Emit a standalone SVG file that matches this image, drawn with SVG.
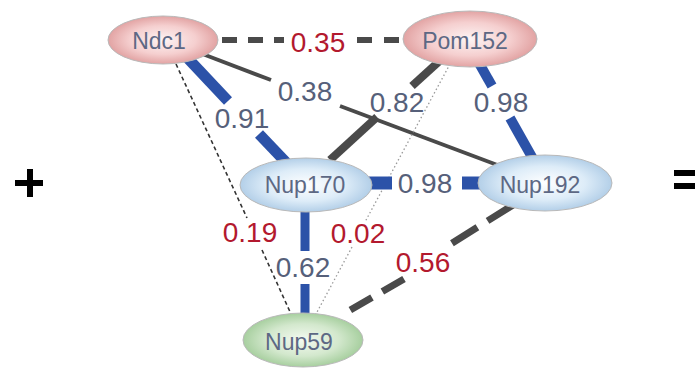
<svg xmlns="http://www.w3.org/2000/svg" width="695" height="373" viewBox="0 0 695 373">
<style>
.blue{stroke:#2c52a8;fill:none;stroke-linecap:butt}
.dark{stroke:#4a4a4a;fill:none}
.nl{font-family:"Liberation Sans",Arial,sans-serif;font-size:23px;fill:#5d6884;text-anchor:middle}
.el{font-family:"Liberation Sans",Arial,sans-serif;font-size:28px;text-anchor:middle}
.g{fill:#56607a}
.r{fill:#b3192e}
.node{stroke:#b9b9b9;stroke-width:1}
</style>
<defs>
<radialGradient id="pink" cx="50%" cy="50%" r="50%">
<stop offset="0" stop-color="#fdf4f4"/>
<stop offset="0.6" stop-color="#f5cfcf"/>
<stop offset="1" stop-color="#e2a3a3"/>
</radialGradient>
<radialGradient id="blueg" cx="50%" cy="50%" r="50%">
<stop offset="0" stop-color="#ffffff"/>
<stop offset="0.6" stop-color="#ddecf8"/>
<stop offset="1" stop-color="#b3cfe8"/>
</radialGradient>
<radialGradient id="green" cx="50%" cy="50%" r="50%">
<stop offset="0" stop-color="#f4faf1"/>
<stop offset="0.6" stop-color="#d3e8cd"/>
<stop offset="1" stop-color="#a7cf9f"/>
</radialGradient>
</defs>
<rect width="695" height="373" fill="#ffffff"/>
<g id="plus" fill="#000">
<rect x="15" y="180" width="28" height="6"/>
<rect x="27" y="169" width="6" height="28"/>
</g>
<g id="equals" fill="#000">
<rect x="674" y="170" width="21" height="6"/>
<rect x="674" y="183" width="21" height="6"/>
</g>
<g id="connectors">
<!-- Ndc1 - Pom152 -->
<line class="dark" x1="222" y1="40" x2="284" y2="40" stroke-width="6" stroke-dasharray="15 11"/>
<line class="dark" x1="357" y1="40" x2="404" y2="40" stroke-width="6" stroke-dasharray="15 12"/>
<!-- Ndc1 - Nup192 -->
<line class="dark" x1="200" y1="53" x2="271" y2="80" stroke-width="4"/>
<line class="dark" x1="340" y1="106" x2="500" y2="166" stroke-width="4"/>
<!-- Ndc1 - Nup59 -->
<line x1="176" y1="64" x2="247" y2="218" stroke="#333" stroke-width="1.6" stroke-dasharray="4 3"/>
<line x1="262" y1="250" x2="291" y2="314" stroke="#333" stroke-width="1.6" stroke-dasharray="4 3"/>
<!-- Pom152 - Nup59 -->
<line x1="450" y1="64" x2="365" y2="222" stroke="#9a9a9a" stroke-width="1.3" stroke-dasharray="1.5 2.5"/>
<line x1="352" y1="247" x2="316" y2="314" stroke="#9a9a9a" stroke-width="1.3" stroke-dasharray="1.5 2.5"/>
<!-- Ndc1 - Nup170 -->
<line class="blue" x1="180" y1="50" x2="228" y2="101" stroke-width="11"/>
<line class="blue" x1="259" y1="134" x2="300" y2="177" stroke-width="11"/>
<!-- Pom152 - Nup170 -->
<line class="dark" x1="445" y1="56" x2="412" y2="86" stroke-width="8"/>
<line class="dark" x1="377" y1="117" x2="330" y2="160" stroke-width="8"/>
<!-- Pom152 - Nup192 -->
<line class="blue" x1="475" y1="56" x2="492" y2="86" stroke-width="10"/>
<line class="blue" x1="510" y1="118" x2="537" y2="166" stroke-width="10"/>
<!-- Nup170 - Nup192 -->
<line class="blue" x1="360" y1="183" x2="392" y2="183" stroke-width="13"/>
<line class="blue" x1="462" y1="183" x2="492" y2="183" stroke-width="13"/>
<!-- Nup170 - Nup59 -->
<line class="blue" x1="305" y1="200" x2="305" y2="251" stroke-width="9"/>
<line class="blue" x1="305" y1="284" x2="305" y2="320" stroke-width="9"/>
<!-- Nup192 - Nup59 -->
<line class="dark" x1="513" y1="205" x2="449" y2="245" stroke-width="7" stroke-dasharray="30 12"/>
<line class="dark" x1="404" y1="279" x2="347" y2="312" stroke-width="7" stroke-dasharray="25 12"/>
</g>
<g id="edge-labels">
<text class="el r" x="318" y="52">0.35</text>
<text class="el g" x="305" y="101">0.38</text>
<text class="el g" x="242" y="128">0.91</text>
<text class="el g" x="397" y="112">0.82</text>
<text class="el g" x="501" y="112">0.98</text>
<text class="el g" x="425" y="193">0.98</text>
<text class="el r" x="250" y="242">0.19</text>
<text class="el r" x="358" y="243">0.02</text>
<text class="el g" x="303" y="277">0.62</text>
<text class="el r" x="423" y="272">0.56</text>
</g>
<g id="Ndc1">
<ellipse class="node" cx="163" cy="40" rx="55" ry="24" fill="url(#pink)"/>
<text class="nl" x="159" y="49">Ndc1</text>
</g>
<g id="Pom152">
<ellipse class="node" cx="470" cy="39" rx="67" ry="28" fill="url(#pink)"/>
<text class="nl" x="465" y="49">Pom152</text>
</g>
<g id="Nup170">
<ellipse class="node" cx="306" cy="185" rx="66" ry="27" fill="url(#blueg)"/>
<text class="nl" x="305" y="193">Nup170</text>
</g>
<g id="Nup192">
<ellipse class="node" cx="545" cy="183" rx="67" ry="28" fill="url(#blueg)"/>
<text class="nl" x="540" y="193">Nup192</text>
</g>
<g id="Nup59">
<ellipse class="node" cx="303" cy="340" rx="60" ry="27" fill="url(#green)"/>
<text class="nl" x="299" y="350">Nup59</text>
</g>
</svg>
